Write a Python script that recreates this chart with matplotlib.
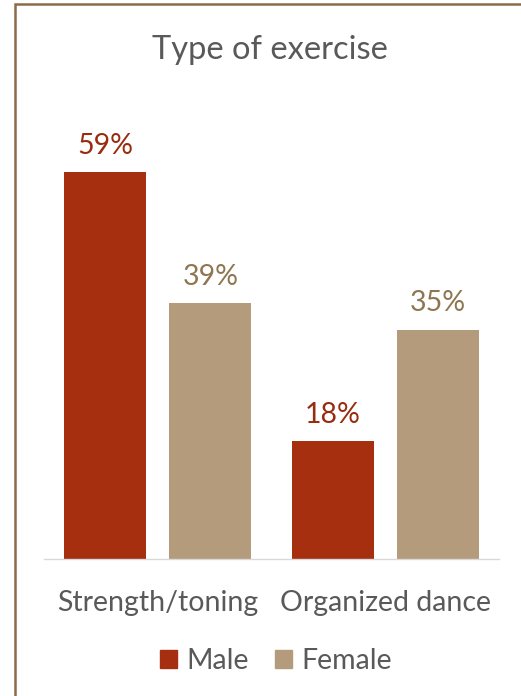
import matplotlib.pyplot as plt
import numpy as np
from matplotlib.patches import Rectangle, Patch

categories = ["Strength/toning", "Organized dance"]
male = [59, 18]
female = [39, 35]
series_names = ["Male", "Female"]

MALE_COLOR = "#A52F0F"
FEMALE_COLOR = "#B39B7C"
MALE_TEXT = "#982C0E"
FEMALE_TEXT = "#8F7652"
GREY = "#595959"

plt.rcParams["font.family"] = ["Lato", "DejaVu Sans"]

W, H = 521, 696
fig = plt.figure(figsize=(W / 100, H / 100), dpi=100)

# brown frame running off the right and bottom edges
fig.patches.append(
    Rectangle((15 / W, -0.05), 1.1, 1 - 4 / H + 0.05, transform=fig.transFigure,
              fill=False, edgecolor="#8C6B48", linewidth=1.8)
)

ax = fig.add_axes([44 / W, (H - 559) / H, 455 / W, 459 / H])

x = np.arange(len(categories))
width = 0.36
offset = 0.231
bars_m = ax.bar(x - offset, male, width, color=MALE_COLOR, label=series_names[0])
bars_f = ax.bar(x + offset, female, width, color=FEMALE_COLOR, label=series_names[1])

for bars, vals, col in [(bars_m, male, MALE_TEXT), (bars_f, female, FEMALE_TEXT)]:
    for b, v in zip(bars, vals):
        ax.annotate(f"{v}%", (b.get_x() + b.get_width() / 2, v), xytext=(0, 9.5),
                    textcoords="offset points", ha="center", va="bottom",
                    fontsize=20.5, color=col)

ax.set_xlim(-0.5, 1.5)
ax.set_ylim(0, 70)
ax.set_yticks([])
ax.set_xticks(x)
ax.set_xticklabels(categories, fontsize=20.5, color=GREY)
ax.tick_params(axis="x", length=0, pad=22)
for side in ["top", "right", "left"]:
    ax.spines[side].set_visible(False)
ax.spines["bottom"].set_color("#D9D9D9")
ax.spines["bottom"].set_linewidth(1.0)

fig.text(270 / W, 1 - 50 / H, "Type of exercise", ha="center", va="center",
         fontsize=23.5, color=GREY)

handles = [Patch(color=MALE_COLOR), Patch(color=FEMALE_COLOR)]
fig.legend(handles, series_names, loc="center", bbox_to_anchor=(276 / W, 1 - 661 / H),
           ncol=2, frameon=False, fontsize=20.5, labelcolor=GREY,
           handlelength=0.6, handleheight=0.6, handletextpad=0.35, columnspacing=0.9)

fig.savefig("out.png", dpi=100)
